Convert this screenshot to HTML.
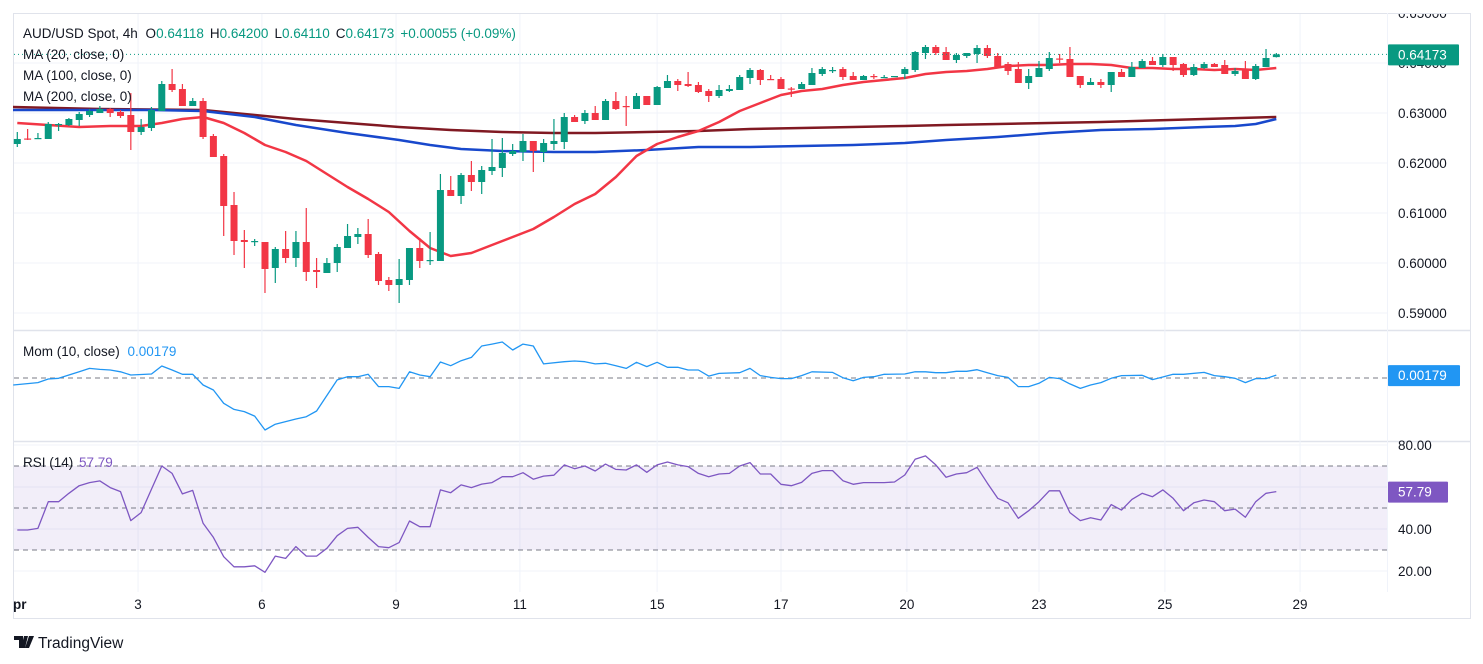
<!DOCTYPE html>
<html><head><meta charset="utf-8"><style>
html,body{margin:0;padding:0;background:#fff;}
svg{display:block;font-family:"Liberation Sans",sans-serif;}
</style></head><body>
<svg id="chart" width="1483" height="664" viewBox="0 0 1483 664" xmlns="http://www.w3.org/2000/svg">
<defs><clipPath id="pc"><rect x="13" y="13" width="1374" height="317"/></clipPath>
<clipPath id="mc"><rect x="13" y="331" width="1374" height="109"/></clipPath>
<clipPath id="rc"><rect x="13" y="442" width="1374" height="150"/></clipPath>
<clipPath id="ac"><rect x="0" y="14" width="1483" height="650"/></clipPath></defs>
<g id="grid"></g>
<g id="rsiband"></g>
<g id="ma" clip-path="url(#pc)"></g>
<g id="candles" clip-path="url(#pc)"></g>
<g id="mom" clip-path="url(#mc)"></g>
<g id="rsi" clip-path="url(#rc)"></g>
<g id="axes" clip-path="url(#ac)"></g>
<g font-size="13.5" fill="#131722">
<text x="23" y="38">AUD/USD Spot, 4h <tspan dx="4">O</tspan><tspan fill="#089981">0.64118</tspan><tspan dx="6">H</tspan><tspan fill="#089981">0.64200</tspan><tspan dx="6">L</tspan><tspan fill="#089981">0.64110</tspan><tspan dx="6">C</tspan><tspan fill="#089981">0.64173</tspan><tspan dx="6" fill="#089981">+0.00055 (+0.09%)</tspan></text>
<text x="23" y="59">MA (20, close, 0)</text>
<text x="23" y="80">MA (100, close, 0)</text>
<text x="23" y="101">MA (200, close, 0)</text>
<text x="23" y="356">Mom (10, close) <tspan dx="4" fill="#2196F3">0.00179</tspan></text>
<text x="23" y="467">RSI (14) <tspan dx="2" fill="#7E57C2">57.79</tspan></text>
</g>
<g>
<path d="M14 636h9v12h-4v-8h-5z M24 636h4l-3 12h-4z M29 636h5l-5 12h-4z" fill="#131722"/>
<text x="38" y="648" font-size="15.5" fill="#131722">TradingView</text>
</g>
</svg>
<script>
const opens=[.6238,.6249,.6248,.6248,.6276,.6276,.6286,.6296,.6300,.6308,.6302,.6296,.6262,.6270,.6304,.6358,.6348,.6314,.6324,.6254,.6214,.6116,.6046,.6042,.6042,.5990,.6028,.6010,.6042,.5986,.5980,.6000,.6030,.6052,.6058,.6018,.5966,.5956,.5966,.6030,.6004,.6004,.6146,.6134,.6176,.6162,.6184,.6190,.6218,.6222,.6244,.6222,.6238,.6242,.6292,.6284,.6300,.6286,.6324,.6314,.6308,.6334,.6316,.6350,.6364,.6358,.6356,.6344,.6334,.6344,.6346,.6370,.6386,.6368,.6368,.6349,.6348,.6356,.6378,.6385,.6388,.6374,.6366,.6374,.6371,.6373,.6378,.6386,.6420,.6432,.6422,.6406,.6414,.6418,.6430,.6414,.6398,.6388,.6360,.6372,.6388,.6409,.6408,.6374,.6356,.6362,.6356,.6382,.6372,.6390,.6404,.6396,.6412,.6398,.6376,.6390,.6398,.6396,.6378,.6386,.6368,.6392,.64118];
const highs=[.6262,.6268,.6260,.6282,.6280,.6290,.6302,.6308,.6314,.6310,.6306,.6340,.6288,.6312,.6364,.6388,.6358,.6330,.6330,.6258,.6218,.6142,.6066,.6048,.6042,.6032,.6064,.6064,.6110,.6010,.6010,.6038,.6078,.6070,.6088,.6022,.5972,.6008,.6030,.6050,.6062,.6178,.6174,.6180,.6204,.6194,.6248,.6250,.6238,.6258,.6244,.6248,.6288,.6300,.6296,.6306,.6314,.6328,.6342,.6334,.6340,.6334,.6354,.6376,.6368,.6382,.6362,.6348,.6356,.6356,.6376,.6390,.6388,.6376,.6372,.6352,.6362,.6390,.6392,.6392,.6392,.6382,.6376,.6378,.6376,.6374,.6392,.6424,.6436,.6436,.6432,.6420,.6420,.6436,.6436,.6420,.6402,.6402,.6388,.6404,.6422,.6418,.6432,.6374,.6370,.6368,.6382,.6388,.6402,.6408,.6412,.6418,.6412,.6400,.6398,.6402,.6400,.6406,.6390,.6404,.6398,.6428,.64200];
const lows=[.6232,.6246,.6248,.6248,.6264,.6274,.6274,.6292,.6300,.6292,.6290,.6226,.6256,.6264,.6304,.6342,.6314,.6314,.6248,.6212,.6054,.6016,.5990,.6034,.5940,.5960,.6000,.5992,.5964,.5950,.5980,.5982,.6030,.6038,.6010,.5956,.5944,.5920,.5956,.5990,.5996,.6004,.6134,.6118,.6144,.6138,.6176,.6172,.6214,.6204,.6182,.6202,.6226,.6228,.6282,.6278,.6286,.6286,.6306,.6274,.6308,.6316,.6316,.6350,.6344,.6352,.6340,.6322,.6330,.6342,.6346,.6358,.6356,.6366,.6348,.6332,.6348,.6356,.6374,.6380,.6366,.6366,.6366,.6368,.6370,.6373,.6368,.6382,.6408,.6416,.6406,.6400,.6410,.6400,.6410,.6390,.6376,.6360,.6348,.6372,.6384,.6400,.6372,.6350,.6356,.6350,.6342,.6372,.6372,.6390,.6396,.6392,.6384,.6372,.6374,.6388,.6392,.6378,.6374,.6368,.6366,.6392,.64110];
const closes=[.6248,.6247,.6250,.6278,.6278,.6288,.6298,.6304,.6308,.6300,.6294,.6262,.6272,.6306,.6358,.6346,.6314,.6324,.6252,.6212,.6114,.6044,.6042,.6044,.5988,.6028,.6010,.6042,.5982,.5982,.6000,.6032,.6054,.6058,.6016,.5964,.5956,.5968,.6030,.6004,.6006,.6146,.6134,.6176,.6162,.6186,.6192,.6220,.6224,.6244,.6224,.6240,.6244,.6292,.6282,.6300,.6286,.6324,.6308,.6312,.6334,.6316,.6352,.6364,.6356,.6354,.6342,.6334,.6346,.6348,.6372,.6386,.6366,.6366,.6348,.6347,.6358,.6380,.6388,.6386,.6372,.6366,.6374,.6373,.6372,.6374,.6388,.6422,.6432,.6420,.6406,.6416,.6420,.6430,.6414,.6392,.6384,.6360,.6374,.6390,.6410,.6407,.6372,.6356,.6362,.6356,.6382,.6372,.6392,.6404,.6396,.6412,.6396,.6376,.6392,.6398,.6392,.6378,.6384,.6368,.6394,.6410,.64173];
const ma20Idx=[0,3,6,9,12,14,16,18,20,22,24,26,28,30,32,34,36,38,40,42,44,46,48,50,52,54,56,58,60,62,64,66,68,70,72,74,76,78,80,82,84,86,88,90,92,94,96,98,100,102,104,106,108,110,112,114,116,118,120,122];
const ma20=[.6280,.6276,.6272,.6274,.6274,.6280,.6288,.6292,.6280,.6260,.6236,.6222,.6204,.6178,.6152,.6128,.6102,.6064,.6030,.6014,.6020,.6036,.6052,.6068,.6092,.6118,.6138,.6172,.6214,.6238,.6252,.6264,.6282,.6304,.6320,.6336,.6344,.6348,.6356,.6362,.6366,.6370,.6378,.6382,.6384,.6388,.6394,.6396,.6396,.6398,.6398,.6396,.6390,.6390,.6388,.6388,.6386,.6388,.6386,.6390];
const ma100Idx=[-0.5,8,13,18,23,27,32,37,40,43,47,52,56,61,66,71,76,81,86,90,95,100,105,110,115,118,120,122];
const ma100=[.6306,.6306,.6306,.6304,.6292,.6276,.6260,.6246,.6236,.6228,.6224,.6222,.6222,.6226,.6232,.6232,.6234,.6236,.6240,.6246,.6252,.6260,.6266,.6268,.6272,.6274,.6278,.6288];
const ma200Idx=[-0.5,8,18,23,27,32,37,42,47,52,56,61,66,71,76,81,86,90,95,105,115,122];
const ma200=[.6312,.6308,.6306,.6296,.6288,.6280,.6272,.6266,.6262,.6260,.6260,.6262,.6264,.6268,.6270,.6272,.6274,.6276,.6278,.6282,.6288,.6292];
const momIdx=[-0.4,2,3,4,6,7,8,9,10,11,13,14,15,16,17,18,19,20,21,22,23,24,25,27,28,29,31,32,33,34,35,36,37,38,39,40,41,42,43,44,45,46,47,48,49,50,51,53,54,55,56,57,58,59,60,61,62,63,64,65,66,67,68,70,71,72,73,74,75,76,77,79,80,81,82,83,84,86,87,88,89,90,91,92,93,94,95,96,97,98,99,100,101,102,103,104,105,106,107,109,110,111,112,113,115,116,117,118,119,120,121,122];
const mom=[-.0044,-.0029,-.0006,-.0002,.0039,.0060,.0054,.0050,.0039,.0019,.0025,.0075,.0050,.0023,.0023,-.0044,-.0075,-.0158,-.0196,-.0210,-.0238,-.0325,-.0289,-.0256,-.0242,-.0206,-.0012,.0008,.0008,.0023,-.0054,-.0054,-.0065,.0039,.0019,.0008,.0100,.0077,.0108,.0129,.0200,.0212,.0225,.0175,.0212,.0200,.0088,.0102,.0106,.0102,.0088,.0092,.0077,.0060,.0098,.0071,.0098,.0067,.0067,.0050,.0050,.0012,.0029,.0033,.0060,.0015,.0004,-.0004,-.0004,.0015,.0039,.0035,.0002,-.0017,.0004,.0008,.0023,.0025,.0039,.0039,.0033,.0033,.0042,.0042,.0052,.0033,.0015,.0004,-.0054,-.0054,-.0033,.0004,-.0004,-.0037,-.0065,-.0044,-.0029,-.0002,.0015,.0017,-.0010,.0006,.0023,.0023,.0035,.0015,.0008,-.0002,-.0029,-.0004,-.0004,.00179];
const rsi=[39.5,39.5,40.3,53.0,53.0,57,60.6,62.1,62.9,59.7,57.8,44.0,47.8,59,70.0,66.5,56.7,58.4,42.7,36.0,26.8,22.0,22.0,22.5,19.4,27.1,26.0,31.6,27.1,27.1,30.8,36.8,40.3,40.8,36.0,31.6,31.1,33.5,43.8,41.1,41.1,58.6,57.3,61.0,59.7,61.4,62.1,64.9,64.9,66.8,63.7,65.2,65.6,70.5,68.7,70.0,67.6,70.9,68.4,68.1,70.5,67.0,70.5,71.9,70.5,69.7,66.5,64.9,66.2,66.5,70.0,71.6,66.2,66.2,61.3,60.6,62.2,66.5,67.8,67.8,63.0,61.3,62.1,62.1,62.1,62.4,65.7,73.2,74.8,70.5,64.6,66.2,66.8,69.4,61.8,54.6,52.5,45.1,48.7,53.0,58.2,58.2,47.8,44.0,45.4,44.3,51.6,49.0,54.1,57.0,55.4,58.6,54.6,48.7,52.5,53.8,53.0,48.7,49.5,45.6,53.0,57.0,57.79];
const priceTicks=[0.65,0.64,0.63,0.62,0.61,0.60,0.59];
const rsiTicks=[80,60,40,20];
const dateLabels=["pr","3","6","9","11","15","17","20","23","25","29"];
const dateIdx=[-0.3,11.7,23.7,36.7,48.7,62,74,86.2,99,111.2,124.3];

const NS="http://www.w3.org/2000/svg";
const xOf=i=>17.3+10.32*i;
const yP=p=>113-(p-0.63)*5000;
const yM=v=>378-v*1600;
const yR=v=>529-(v-40)*2.1;
function mk(tag,attrs,parent,txt){const e=document.createElementNS(NS,tag);for(const k in attrs)e.setAttribute(k,attrs[k]);if(txt!==undefined)e.textContent=txt;parent.appendChild(e);return e;}
const G=id=>document.getElementById(id);
const grid=G('grid'),axes=G('axes');
let fr=mk('rect',{x:13.5,y:13.5,width:1457,height:605,fill:'none',stroke:'#e0e3eb'},grid);


[330.5,441.5].forEach(y=>{const l=mk('line',{x1:13,x2:1470,y1:y,y2:y,stroke:'#e0e3eb','stroke-width':1.5},grid);

});
let pa=mk('line',{x1:1387.5,x2:1387.5,y1:13,y2:592,stroke:'#f0f3fa'},grid);


dateIdx.forEach((d,k)=>{const x=xOf(d);
 if(k>0){const l=mk('line',{x1:x,x2:x,y1:14,y2:592,stroke:'#f0f3fa'},grid);
 
 }
 const t=mk('text',{x:k==0?13:x,y:609,'font-size':13.5,fill:'#131722','text-anchor':k==0?'start':'middle','font-weight':k==0?'bold':'normal'},axes,dateLabels[k]);
 
 });
priceTicks.forEach(p=>{const y=yP(p);
 if(y>14){const l=mk('line',{x1:14,x2:1387,y1:y,y2:y,stroke:'#f0f3fa'},grid);
 
 }
 const t=mk('text',{x:1398,y:y+5,'font-size':13.5,fill:'#131722'},axes,p.toFixed(5));
 
 });
rsiTicks.forEach(v=>{const y=yR(v);
 const l=mk('line',{x1:14,x2:1387,y1:y,y2:y,stroke:'#f0f3fa'},grid);
 
 
 const t=mk('text',{x:1398,y:y+5,'font-size':13.5,fill:'#131722'},axes,v.toFixed(2));
 
 });
const band=G('rsiband');
let br=mk('rect',{x:14,y:yR(70),width:1373,height:yR(30)-yR(70),fill:'rgba(126,87,194,0.1)'},band);


[70,50,30].forEach(v=>{const l=mk('line',{x1:14,x2:1387,y1:yR(v),y2:yR(v),stroke:'#787b86','stroke-dasharray':'5,4'},band);
 
 });
function poly(idx,vals,fy,color,w,parent,name){const pts=idx.map((i,k)=>xOf(i).toFixed(1)+','+fy(vals[k]).toFixed(1)).join(' ');
 const e=mk('polyline',{points:pts,fill:'none',stroke:color,'stroke-width':w,'stroke-linejoin':'round'},parent);
 
 }
const maG=G('ma');
poly(ma200Idx,ma200,yP,'#801922',2.5,maG,'ma200-line');
poly(ma100Idx,ma100,yP,'#1848CC',2.5,maG,'ma100-line');
poly(ma20Idx,ma20,yP,'#F23645',2.5,maG,'ma20-line');
const cg=G('candles');
closes.forEach((c,i)=>{const o=opens[i],up=c>=o,col=up?'#089981':'#F23645',x=xOf(i);
 const g=mk('g',{},cg);
 
 
 mk('line',{x1:x,x2:x,y1:yP(highs[i]),y2:yP(lows[i]),stroke:col,'stroke-width':1.2},g);
 const t=Math.min(yP(o),yP(c)),h=Math.max(1.2,Math.abs(yP(o)-yP(c)));
 mk('rect',{x:x-3.5,y:t,width:7,height:h,fill:col},g);});
const lp=closes[closes.length-1];
let pl=mk('line',{x1:14,x2:1387,y1:yP(lp),y2:yP(lp),stroke:'#089981','stroke-dasharray':'1,3'},axes);


function badge(y,bg,txt,name,w){const g=mk('g',{},axes);
 
 
 mk('rect',{x:1388,y:y-10,width:w,height:21,fill:bg,rx:1},g);
 mk('text',{x:1398,y:y+5,'font-size':13.5,fill:'#fff'},g,txt);}
badge(yP(lp),'#089981',lp.toFixed(5),'last-price-label',71);
const mg=G('mom');
let z=mk('line',{x1:14,x2:1387,y1:yM(0),y2:yM(0),stroke:'#787b86','stroke-dasharray':'5,4'},mg);


poly(momIdx,mom,yM,'#2196F3',1.3,mg,'momentum-line');
badge(yM(mom[mom.length-1]),'#2196F3',mom[mom.length-1].toFixed(5),'mom-value-label',72);
const rg=G('rsi');
poly(rsi.map((_,i)=>i),rsi,yR,'#7E57C2',1.3,rg,'rsi-line');
badge(yR(rsi[rsi.length-1]),'#7E57C2',rsi[rsi.length-1].toFixed(2),'rsi-value-label',60);
</script>
</body></html>
